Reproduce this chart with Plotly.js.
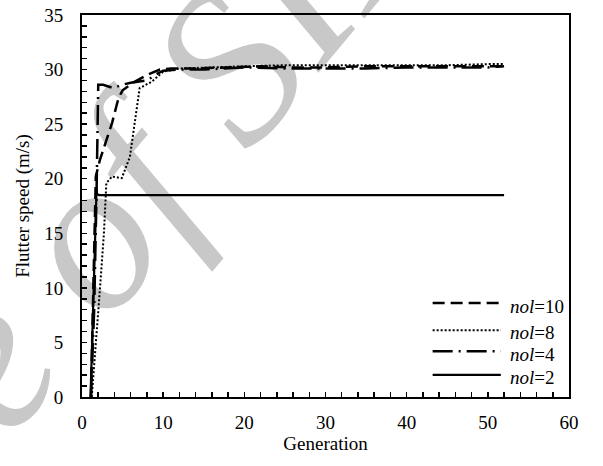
<!DOCTYPE html>
<html>
<head>
<meta charset="utf-8">
<script src="https://cdn.plot.ly/plotly-3.0.1.min.js"></script>
<style>
html,body{margin:0;padding:0;background:#fff;}
#wrap{position:relative;width:603px;height:466px;overflow:hidden;background:#fff;}
#wm{position:absolute;left:0;top:0;width:603px;height:466px;overflow:hidden;z-index:0;}
#wmtext{position:absolute;left:0;top:0;white-space:nowrap;font-family:"Liberation Serif","DejaVu Serif",serif;font-style:italic;font-size:218px;color:#c8c8c8;line-height:1;transform-origin:0 0;}
#chart{position:absolute;left:0;top:0;width:603px;height:466px;z-index:1;}
</style>
</head>
<body>
<div id="wrap">
<div id="wm"><div id="wmtext">Archive <span id="wo">o</span>f SID</div></div>
<div id="chart"></div>
</div>
<script>
// nol=10 (dashed)
var x10 = [1.1, 1.4, 1.7, 2.2, 3.0, 3.7, 4.5, 5.0, 6.3, 8.0, 9.6, 11, 14, 18, 22, 26, 30, 35, 40, 45, 50, 52];
var y10 = [0, 10, 20.2, 21.7, 23.5, 25.1, 27.4, 28.1, 28.8, 29.5, 30.0, 30.1, 30.1, 30.2, 30.3, 30.2, 30.2, 30.3, 30.3, 30.3, 30.3, 30.3];
// nol=8 (dotted)
var x8 = [1.2, 1.6, 2.2, 2.7, 3.0, 3.7, 4.9, 5.9, 6.4, 6.7, 7.1, 8.6, 10, 12, 15, 20, 25, 30, 35, 40, 45, 50, 52];
var y8 = [0, 4.3, 9.8, 15, 19.6, 20.2, 20.05, 22.0, 24.5, 26.3, 28.3, 28.9, 29.8, 30.1, 30.2, 30.3, 30.4, 30.4, 30.4, 30.4, 30.4, 30.5, 30.5];
// nol=4 (dash-dot)
var x4 = [1.1, 1.5, 1.8, 2.0, 2.6, 3.9, 4.9, 6, 8, 9, 10, 12, 15, 18, 20, 25, 30, 35, 40, 45, 50, 52];
var y4 = [0, 8, 19, 28.6, 28.6, 28.3, 28.6, 28.8, 29.0, 29.5, 29.9, 30.0, 30.0, 30.1, 30.2, 30.1, 30.1, 30.1, 30.2, 30.2, 30.2, 30.3];
// nol=2 (solid)
var x2 = [1.05, 1.8, 1.85, 2.1, 52];
var y2 = [0, 19.2, 18.6, 18.5, 18.5];

var names = ["nol=10", "nol=8", "nol=4", "nol=2"];
var dashes = ["12px,6px", "2px,2px", "20px,6px,2px,6px", "solid"];
var widths = [2.5, 2, 2.5, 2.2];

var font = {family: '"Liberation Serif", "Times New Roman", serif', size: 19, color: "#000"};

var series = [[x10, y10], [x8, y8], [x4, y4], [x2, y2]];
var traces = series.map(function (s, i) {
  return {x: s[0], y: s[1], type: "scatter", mode: "lines", name: names[i], showlegend: false,
    line: {color: "#000", width: widths[i], dash: dashes[i]}};
});

// manual legend
var shapes = [], annotations = [];
var legLineY = [0.246, 0.175, 0.120, 0.058];
var legTextY = [0.236, 0.168, 0.110, 0.050];
for (var i = 0; i < names.length; i++) {
  shapes.push({type: "line", xref: "paper", yref: "paper", x0: 0.72, x1: 0.86, y0: legLineY[i], y1: legLineY[i],
    line: {color: "#000", width: widths[i], dash: dashes[i]}});
  annotations.push({xref: "paper", yref: "paper", x: 0.875, y: legTextY[i], xanchor: "left", yanchor: "middle",
    showarrow: false, text: "<i>nol</i>=" + names[i].split("=")[1], font: font});
}

var layout = {
  width: 603, height: 466,
  margin: {l: 82, r: 34, t: 15, b: 69},
  paper_bgcolor: "rgba(0,0,0,0)", plot_bgcolor: "rgba(0,0,0,0)",
  font: font,
  xaxis: {range: [0, 60], dtick: 10, tick0: 0, ticks: "inside", ticklen: 5, tickwidth: 1.5, tickcolor: "#000",
    minor: {dtick: 2, ticks: "inside", ticklen: 5, tickwidth: 1.5, tickcolor: "#000"},
    ticklabelstandoff: 7,
    showline: true, linecolor: "#000", linewidth: 2, mirror: true, showgrid: false, zeroline: false,
    tickfont: font, title: {text: "Generation", font: font, standoff: 4}},
  yaxis: {range: [0, 35], dtick: 5, tick0: 0, ticks: "inside", ticklen: 5, tickwidth: 1.5, tickcolor: "#000",
    minor: {dtick: 1, ticks: "inside", ticklen: 5, tickwidth: 1.5, tickcolor: "#000"},
    ticklabelstandoff: 13,
    showline: true, linecolor: "#000", linewidth: 2, mirror: true, showgrid: false, zeroline: false,
    tickfont: font, title: {text: "Flutter speed (m/s)", font: font, standoff: 10}},
  shapes: shapes,
  annotations: annotations
};

// place watermark: rotate, then shift so the "o" of "of" lands at the target point
(function () {
  var t = document.getElementById("wmtext");
  t.style.transform = "rotate(-50deg)";
  var r = document.getElementById("wo").getBoundingClientRect();
  var cx = r.left + r.width / 2, cy = r.top + r.height / 2;
  var tx = 84, ty = 238;
  t.style.left = (tx - cx) + "px";
  t.style.top = (ty - cy) + "px";
})();

Plotly.newPlot("chart", traces, layout, {displayModeBar: false, staticPlot: true});
</script>
</body>
</html>
